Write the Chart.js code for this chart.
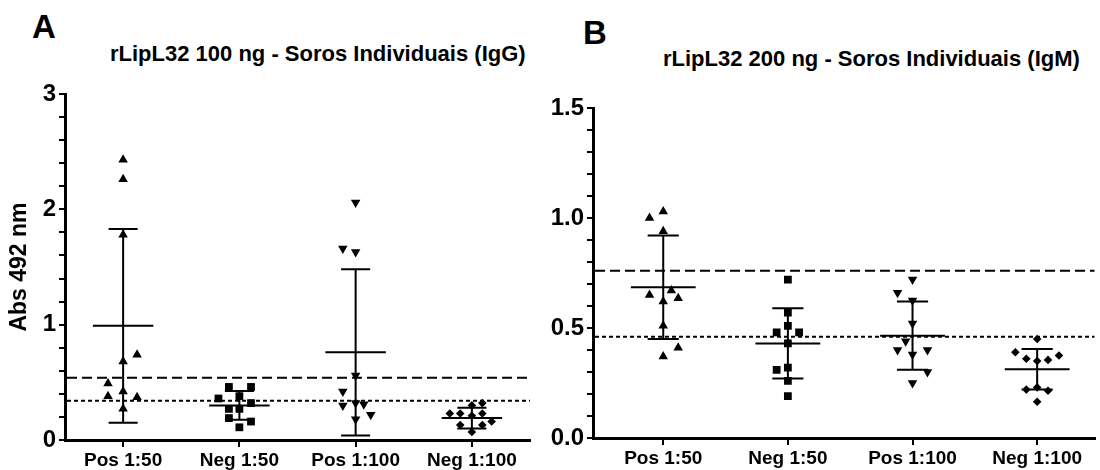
<!DOCTYPE html>
<html>
<head>
<meta charset="utf-8">
<script src="https://cdn.jsdelivr.net/npm/chart.js@4.4.1/dist/chart.umd.min.js"></script>
<style>
  body { margin: 0; background: #fff; width: 1100px; height: 470px; position: relative; overflow: hidden;
         font-family: 'Liberation Sans', Arial, sans-serif; font-weight: bold; color: #000; }
  canvas { position: absolute; top: 0; }
  .lbl { position: absolute; white-space: nowrap; line-height: 1; }
</style>
</head>
<body>
<div class="lbl" style="left:32px;top:10px;font-size:33px">A</div>
<div class="lbl" style="left:110px;top:43px;font-size:22px">rLipL32 100 ng - Soros Individuais (IgG)</div>
<div class="lbl" style="left:583px;top:16px;font-size:33px">B</div>
<div class="lbl" style="left:663px;top:48px;font-size:22px">rLipL32 200 ng - Soros Individuais (IgM)</div>
<canvas id="chartA" width="540" height="470" style="left:0"></canvas>
<canvas id="chartB" width="565" height="470" style="left:535px"></canvas>
<script>
  // grupos (eixo x)
  const categories = ['Pos 1:50', 'Neg 1:50', 'Pos 1:100', 'Neg 1:100'];

  // painel A - IgG, absorbancia de cada soro
  const igG_pos50  = [2.43, 2.26, 1.78, 0.74, 0.68, 0.49, 0.38, 0.42, 0.37, 0.27];
  const igG_neg50  = [0.46, 0.46, 0.36, 0.38, 0.32, 0.27, 0.27, 0.19, 0.16, 0.11];
  const igG_pos100 = [2.06, 1.66, 1.63, 0.56, 0.42, 0.30, 0.32, 0.31, 0.22, 0.18];
  const igG_neg100 = [0.30, 0.32, 0.23, 0.23, 0.23, 0.21, 0.16, 0.13, 0.13, 0.07];
  // espalhamento horizontal de cada ponto (fracao da categoria)
  const igG_pos50_jit  = [0, 0, 0, 0.12, 0, -0.13, -0.13, 0, 0.12, 0];
  const igG_neg50_jit  = [-0.09, 0.1, -0.18, 0, 0.1, -0.09, 0, -0.09, 0.1, 0];
  const igG_pos100_jit = [0, -0.11, 0, 0, -0.11, -0.11, 0, 0.07, 0.13, 0];
  const igG_neg100_jit = [0, 0.09, -0.19, -0.1, 0.09, 0, 0.17, -0.1, 0.09, 0];
  const igG_mean = [0.99, 0.30, 0.76, 0.19];
  const igG_sd   = [0.84, 0.125, 0.72, 0.09];
  const igG_cutoffs = [0.54, 0.34];   // tracejada, pontilhada

  // painel B - IgM
  const igM_pos50  = [1.00, 1.03, 0.94, 0.65, 0.67, 0.62, 0.635, 0.51, 0.41, 0.37];
  const igM_neg50  = [0.72, 0.57, 0.51, 0.48, 0.48, 0.43, 0.31, 0.32, 0.26, 0.19];
  const igM_pos100 = [0.72, 0.66, 0.625, 0.52, 0.44, 0.40, 0.38, 0.40, 0.30, 0.25];
  const igM_neg100 = [0.45, 0.39, 0.36, 0.35, 0.355, 0.375, 0.22, 0.23, 0.215, 0.165];
  const igM_pos50_jit  = [-0.11, 0, 0, -0.11, 0.065, 0, 0.12, 0, 0.12, 0];
  const igM_neg50_jit  = [0, 0, 0, -0.09, 0.09, 0, -0.09, 0, 0, 0];
  const igM_pos100_jit = [0, -0.12, 0, 0, -0.055, -0.12, 0, 0.12, 0.12, 0];
  const igM_neg100_jit = [0, -0.175, -0.087, 0, 0.087, 0.175, -0.087, 0, 0.087, 0];
  const igM_mean = [0.685, 0.43, 0.465, 0.313];
  const igM_sd   = [0.235, 0.16, 0.155, 0.092];
  const igM_cutoffs = [0.76, 0.46];

  // ticks do eixo y
  const yTicksA = [0, 1, 2, 3];
  const yLabelsA = ['0', '1', '2', '3'];
  const yTicksB = [0, 0.5, 1.0, 1.5];
  const yLabelsB = ['0.0', '0.5', '1.0', '1.5'];

  const FONT = 'Liberation Sans';
  const markers = [
    { style: 'triangle', rot: 0,   r: 5.5 },
    { style: 'rect',     rot: 0,   r: 5.5 },
    { style: 'triangle', rot: 180, r: 5.5 },
    { style: 'rectRot',  rot: 0,   r: 4.3 }
  ];

  const errorBars = {
    id: 'errorBars',
    beforeDatasetsDraw(chart, args, opts) {
      const { ctx, chartArea, scales: { x, y } } = chart;
      ctx.save();
      ctx.strokeStyle = '#000';
      ctx.lineWidth = 2;
      opts.cutoffs.forEach((c, k) => {
        ctx.setLineDash(k === 0 ? [10, 5] : [4, 3]);
        const py = y.getPixelForValue(c);
        ctx.beginPath();
        ctx.moveTo(chartArea.left + 2, py);
        ctx.lineTo(chartArea.right, py);
        ctx.stroke();
      });
      ctx.setLineDash([]);
      opts.means.forEach((m, i) => {
        const cx = x.getPixelForValue(i + 1);
        const hw = x.getPixelForValue(i + 1.26) - cx;
        const cw = x.getPixelForValue(i + 1.125) - cx;
        const my = y.getPixelForValue(m);
        const top = y.getPixelForValue(m + opts.sds[i]);
        const bot = y.getPixelForValue(Math.max(0, m - opts.sds[i]));
        ctx.beginPath();
        ctx.moveTo(cx - hw, my); ctx.lineTo(cx + hw, my);
        ctx.moveTo(cx, top); ctx.lineTo(cx, bot);
        ctx.moveTo(cx - cw, top); ctx.lineTo(cx + cw, top);
        ctx.moveTo(cx - cw, bot); ctx.lineTo(cx + cw, bot);
        ctx.stroke();
      });
      ctx.restore();
    }
  };

  function makeChart(id, groups, jits, means, sds, cutoffs, cfg) {
    const datasets = groups.map((vals, i) => ({
      label: categories[i],
      data: vals.map((v, j) => ({ x: i + 1 + jits[i][j], y: v })),
      pointStyle: markers[i].style,
      rotation: markers[i].rot,
      pointRadius: markers[i].r,
      pointBackgroundColor: '#000',
      pointBorderColor: '#000',
      pointBorderWidth: 0,
      showLine: false
    }));

    const tickFor = (v, majors, labels) => {
      const k = majors.findIndex(t => Math.abs(t - v) < 1e-6);
      return k >= 0 ? labels[k] : '';
    };

    return new Chart(document.getElementById(id), {
      type: 'scatter',
      data: { datasets },
      plugins: [errorBars],
      options: {
        responsive: false,
        animation: false,
        layout: { padding: { top: cfg.top, right: cfg.right, left: 0, bottom: 0 } },
        plugins: {
          legend: { display: false },
          tooltip: { enabled: false },
          errorBars: { means, sds, cutoffs }
        },
        scales: {
          x: {
            type: 'linear',
            min: cfg.xmin,
            max: cfg.xmax,
            afterBuildTicks: s => { s.ticks = categories.map((c, i) => ({ value: i + 1 })); },
            afterFit: s => { s.height = cfg.xh; },
            ticks: {
              callback: v => categories[Math.round(v) - 1],
              font: { family: FONT, size: 19, weight: 'bold' },
              color: '#000', padding: 2, maxRotation: 0, minRotation: 0, autoSkip: false
            },
            grid: { drawOnChartArea: false, color: '#000', lineWidth: 2, tickLength: 7 },
            border: { color: '#000', width: 3 }
          },
          y: {
            min: 0,
            max: cfg.ymax,
            afterBuildTicks: s => {
              const t = [];
              for (let k = 0; k * cfg.minor <= cfg.ymax + 1e-9; k++) t.push({ value: +(k * cfg.minor).toFixed(4) });
              s.ticks = t;
            },
            afterFit: s => { s.width = cfg.yw; },
            ticks: {
              callback: v => tickFor(v, cfg.majors, cfg.labels),
              font: { family: FONT, size: 24, weight: 'bold' },
              color: '#000', padding: 3, autoSkip: false
            },
            grid: { drawOnChartArea: false, color: '#000', lineWidth: 2, tickLength: 6 },
            border: { color: '#000', width: 3 },
            title: {
              display: !!cfg.ytitle,
              text: cfg.ytitle || '',
              font: { family: FONT, size: 23, weight: 'bold' },
              color: '#000',
              padding: { top: 6, bottom: 0 }
            }
          }
        }
      }
    });
  }

  makeChart('chartA',
    [igG_pos50, igG_neg50, igG_pos100, igG_neg100],
    [igG_pos50_jit, igG_neg50_jit, igG_pos100_jit, igG_neg100_jit],
    igG_mean, igG_sd, igG_cutoffs,
    { top: 94, right: 10, yw: 65, xh: 30, xmin: 0.5, xmax: 4.5, ymax: 3, minor: 0.2,
      majors: yTicksA, labels: yLabelsA, ytitle: 'Abs 492 nm' });

  makeChart('chartB',
    [igM_pos50, igM_neg50, igM_pos100, igM_neg100],
    [igM_pos50_jit, igM_neg50_jit, igM_pos100_jit, igM_neg100_jit],
    igM_mean, igM_sd, igM_cutoffs,
    { top: 108, right: 0, yw: 58, xh: 32, xmin: 0.4365, xmax: 4.46, ymax: 1.5, minor: 0.1,
      majors: yTicksB, labels: yLabelsB, ytitle: '' });
</script>
</body>
</html>
